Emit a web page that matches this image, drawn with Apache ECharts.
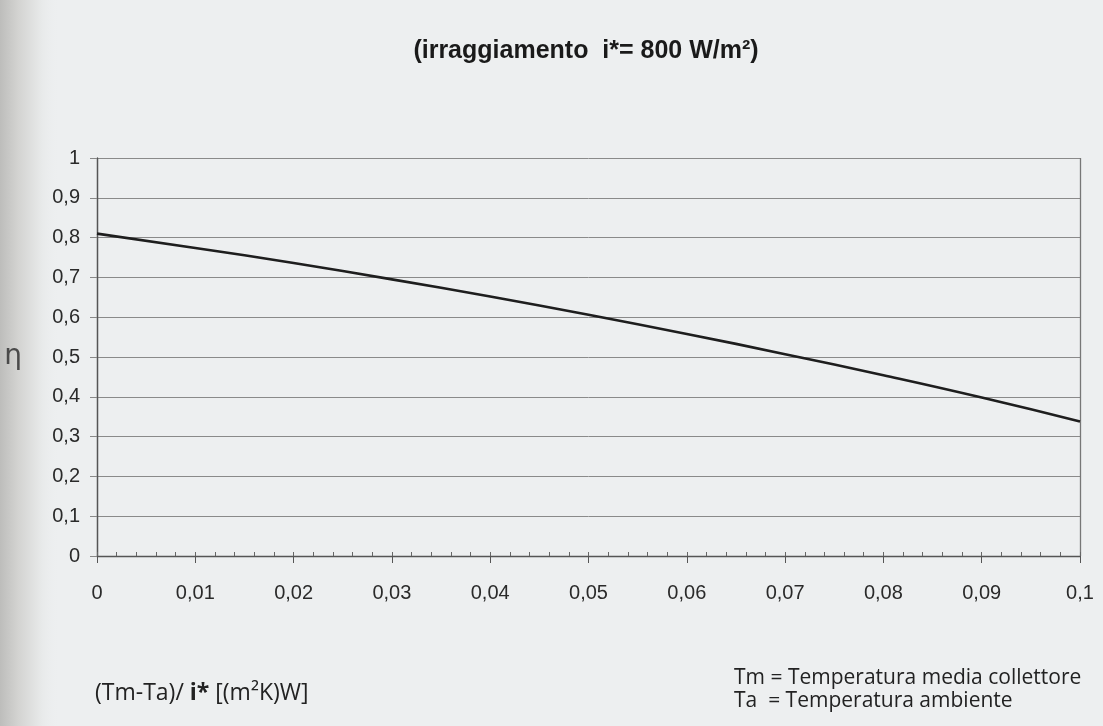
<!DOCTYPE html>
<html>
<head>
<meta charset="utf-8">
<script src="https://cdn.jsdelivr.net/npm/echarts@6/dist/echarts.min.js"></script>
<style>
  html, body { margin: 0; padding: 0; background: #edeff0; }
  #chart { width: 1103px; height: 726px; }
</style>
</head>
<body>
<div id="chart"></div>
<script>
// dati
var xValues = [0, 0.01, 0.02, 0.03, 0.04, 0.05, 0.06, 0.07, 0.08, 0.09, 0.1]
var etaValues = [0.81, 0.774, 0.736, 0.695, 0.652, 0.606, 0.558, 0.507, 0.454, 0.398, 0.338]
var titleText = '(irraggiamento  i*= 800 W/m²)'

var chart = echarts.init(document.getElementById('chart'))

function comma(v, d) {
    return String(Math.round(v * d) / d).replace('.', ',')
}

var points = xValues.map(function (x, i) { return [x, etaValues[i]] })

chart.setOption({
    backgroundColor: '#edeff0',
    animation: false,
    title: {
        text: titleText,
        left: 581,
        top: 34,
        textAlign: 'center',
        textStyle: { fontFamily: 'Liberation Sans', fontWeight: 'bold', fontSize: 25, color: '#1a1a1a' }
    },
    grid: { left: 97, right: 23, top: 158, bottom: 170 },
    xAxis: [
        {
            type: 'value',
            min: 0, max: 0.1, interval: 0.01,
            axisLine: { show: true, lineStyle: { color: '#555', width: 1.3 } },
            axisTick: { show: true, length: 7, lineStyle: { color: '#555' } },
            axisLabel: {
                margin: 27, fontSize: 20, color: '#2a2a2a', fontFamily: 'Liberation Sans',
                formatter: function (v) { return comma(v, 100) }
            },
            splitLine: { show: false }
        },
        {
            // tacche secondarie (verso l'interno)
            type: 'value', position: 'bottom',
            min: 0, max: 0.1, interval: 0.002,
            axisLine: { show: false },
            axisTick: { show: true, inside: true, length: 4, lineStyle: { color: '#666' } },
            axisLabel: { show: false },
            splitLine: { show: false }
        },
        {
            // bordo destro
            type: 'value', position: 'top',
            min: 0, max: 0.1, interval: 0.1,
            axisLine: { show: false },
            axisTick: { show: false },
            axisLabel: { show: false },
            splitLine: { show: true, lineStyle: { color: '#777', width: 1.3 } }
        }
    ],
    yAxis: {
        type: 'value',
        min: 0, max: 1, interval: 0.1,
        name: 'η',
        nameLocation: 'middle',
        nameGap: 75,
        nameRotate: 0,
        nameTextStyle: { fontSize: 28, color: '#4a4a4a', fontFamily: 'DejaVu Sans' },
        axisLine: { show: true, lineStyle: { color: '#555', width: 1.3 } },
        axisTick: { show: true, length: 7, lineStyle: { color: '#888' } },
        axisLabel: {
            margin: 17, fontSize: 20, color: '#2a2a2a', fontFamily: 'Liberation Sans',
            formatter: function (v) { return comma(v, 10) }
        },
        splitLine: { show: true, lineStyle: { color: '#8a8a8a', width: 1 } }
    },
    graphic: [
        {
            // ombra della rilegatura
            type: 'rect', left: 0, top: 0, z: -1,
            shape: { width: 60, height: 726 },
            style: {
                fill: new echarts.graphic.LinearGradient(0, 0, 1, 0, [
                    { offset: 0, color: '#bdbdbb' },
                    { offset: 0.3, color: '#d3d3d1' },
                    { offset: 0.7, color: '#e8eaea' },
                    { offset: 1, color: 'rgba(237,239,240,0)' }
                ])
            }
        },
        {
            type: 'text', x: 95, y: 693,
            style: {
                rich: {
                    n: { fontSize: 23, fontFamily: 'Open Sans', fill: '#222' },
                    b: { fontSize: 23, fontFamily: 'Open Sans', fontWeight: 'bold', fill: '#222' }
                },
                text: '{n|(Tm-Ta)/ }{b|i*}{n| [(m²K)W]}',
                verticalAlign: 'middle'
            }
        },
        {
            type: 'text', x: 734, y: 678,
            style: {
                text: 'Tm = Temperatura media collettore',
                fontSize: 21, fontFamily: 'Open Sans', fill: '#222', verticalAlign: 'middle'
            }
        },
        {
            type: 'text', x: 734, y: 701,
            style: {
                text: 'Ta  = Temperatura ambiente',
                fontSize: 21, fontFamily: 'Open Sans', fill: '#222', verticalAlign: 'middle'
            }
        }
    ],
    series: [
        {
            type: 'line',
            xAxisIndex: 0,
            data: points,
            smooth: true,
            showSymbol: false,
            lineStyle: { color: '#1e1e1e', width: 2.6 }
        }
    ]
})
</script>
</body>
</html>
